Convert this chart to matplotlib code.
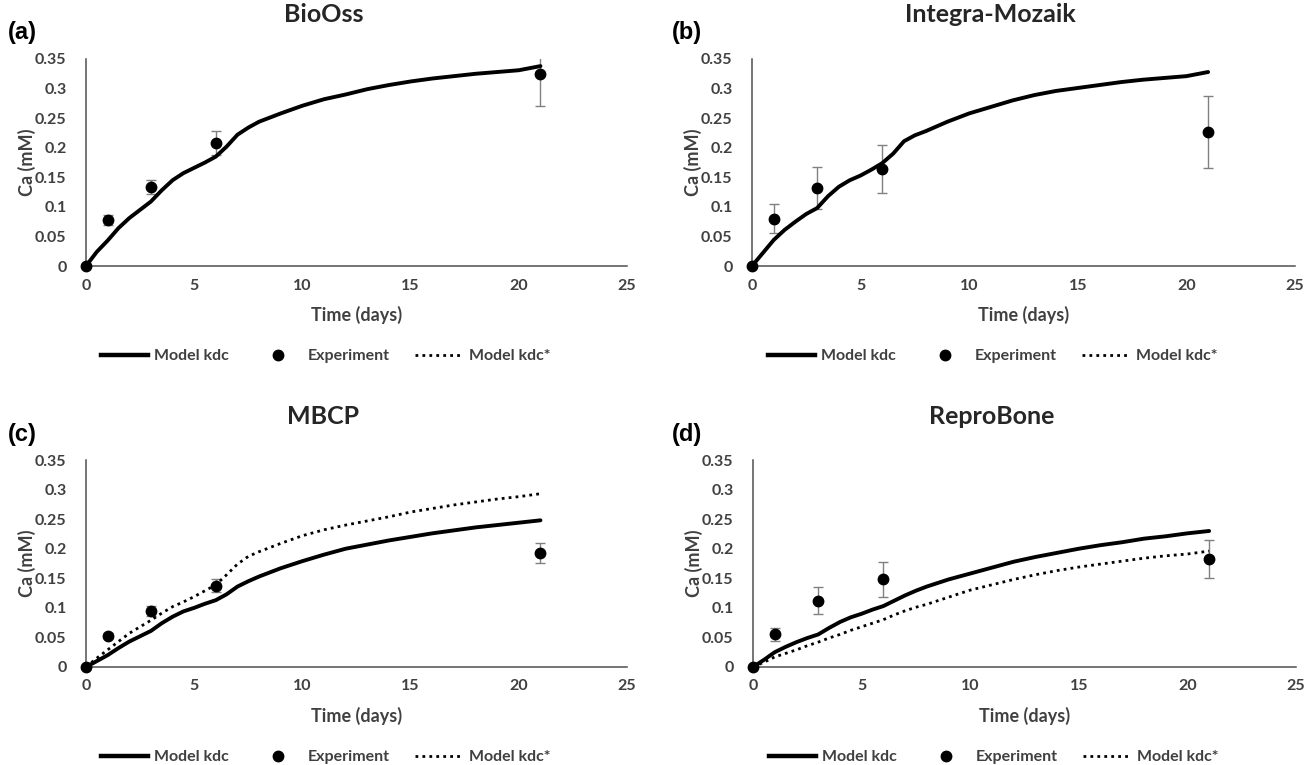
import matplotlib
matplotlib.use("Agg")
import matplotlib.pyplot as plt
from matplotlib.lines import Line2D

# model curves, sampled in days
t_model = [0, 0.5, 1, 1.5, 2, 2.5, 3, 3.5, 4, 4.5, 5, 5.5, 6, 6.5, 7, 7.5, 8,
           9, 10, 11, 12, 13, 14, 15, 16, 17, 18, 19, 20, 21]
bioss_kdc = [0, 0.024, 0.043, 0.064, 0.081, 0.095, 0.109, 0.128, 0.145, 0.157, 0.166, 0.175,
             0.185, 0.202, 0.222, 0.234, 0.244, 0.258, 0.271, 0.282, 0.290, 0.299, 0.306,
             0.312, 0.317, 0.321, 0.325, 0.328, 0.331, 0.338]
integra_kdc = [0, 0.022, 0.044, 0.061, 0.075, 0.088, 0.098, 0.118, 0.134, 0.145, 0.153, 0.163,
               0.174, 0.190, 0.211, 0.221, 0.228, 0.244, 0.258, 0.269, 0.280, 0.289, 0.296,
               0.301, 0.306, 0.311, 0.315, 0.318, 0.321, 0.328]
mbcp_kdc = [0, 0.010, 0.020, 0.032, 0.043, 0.052, 0.061, 0.074, 0.085, 0.094, 0.100, 0.107,
            0.113, 0.123, 0.136, 0.145, 0.153, 0.167, 0.179, 0.190, 0.200, 0.207, 0.214,
            0.220, 0.226, 0.231, 0.236, 0.240, 0.244, 0.248]
mbcp_kdc_star = [0, 0.015, 0.029, 0.043, 0.057, 0.068, 0.079, 0.091, 0.102, 0.110, 0.119, 0.129,
                 0.139, 0.156, 0.174, 0.187, 0.195, 0.209, 0.222, 0.232, 0.240, 0.247, 0.254,
                 0.262, 0.268, 0.274, 0.279, 0.284, 0.288, 0.293]
repro_kdc = [0, 0.012, 0.025, 0.034, 0.042, 0.049, 0.055, 0.066, 0.076, 0.084, 0.090, 0.097,
             0.103, 0.112, 0.121, 0.129, 0.136, 0.148, 0.158, 0.168, 0.178, 0.186, 0.193,
             0.200, 0.206, 0.211, 0.217, 0.221, 0.226, 0.230]
repro_kdc_star = [0, 0.008, 0.017, 0.023, 0.029, 0.036, 0.042, 0.049, 0.055, 0.062, 0.068, 0.074,
                  0.080, 0.088, 0.095, 0.101, 0.106, 0.118, 0.130, 0.139, 0.148, 0.156, 0.163,
                  0.169, 0.174, 0.179, 0.184, 0.188, 0.191, 0.196]

# experiments (mean, error)
t_exp = [0, 1, 3, 6, 21]
bioss_exp = [0, 0.078, 0.134, 0.208, 0.325]
bioss_err = [0, 0.009, 0.012, 0.020, 0.054]
integra_exp = [0, 0.080, 0.132, 0.164, 0.226]
integra_err = [0, 0.025, 0.035, 0.041, 0.061]
mbcp_exp = [0, 0.053, 0.095, 0.137, 0.193]
mbcp_err = [0, 0.004, 0.008, 0.011, 0.017]
repro_exp = [0, 0.055, 0.112, 0.148, 0.182]
repro_err = [0, 0.011, 0.023, 0.030, 0.032]

titles = ["BioOss", "Integra-Mozaik", "MBCP", "ReproBone"]
letters = ["(a)", "(b)", "(c)", "(d)"]
x_ticks = [0, 5, 10, 15, 20, 25]
y_ticks = [0, 0.05, 0.1, 0.15, 0.2, 0.25, 0.3, 0.35]

plt.rcParams['font.family'] = ['Lato', 'DejaVu Sans']

W, H = 1316, 765
fig = plt.figure(figsize=(W / 100, H / 100), dpi=100)

# axes boxes in pixels: left, right, top(0.35), bottom(0)
boxes = [(86, 627, 59, 266), (752, 1295, 59, 266),
         (86, 627, 460, 667), (753, 1296, 460, 667)]
letter_x = [8, 672, 8, 672]

panels = [
    (bioss_kdc, None, bioss_exp, bioss_err),
    (integra_kdc, None, integra_exp, integra_err),
    (mbcp_kdc, mbcp_kdc_star, mbcp_exp, mbcp_err),
    (repro_kdc, repro_kdc_star, repro_exp, repro_err),
]

dot_style = (0, (1, 1.5))
tick_col = '#404040'

for i, (kdc, kdc_star, exp, err) in enumerate(panels):
    l, r, t, b = boxes[i]
    ax = fig.add_axes([l / W, 1 - b / H, (r - l) / W, (b - t) / H])
    aw, ah = r - l, b - t

    ax.plot(t_model, kdc, color='black', lw=2.8, solid_capstyle='round',
            solid_joinstyle='round', zorder=3)
    if kdc_star is not None:
        ax.plot(t_model, kdc_star, color='black', lw=2.0, linestyle=dot_style, zorder=3)
    ax.errorbar(t_exp, exp, yerr=err, fmt='none', ecolor='#808080', elinewidth=1.0,
                capsize=3.5, capthick=1.0, zorder=2)
    ax.plot(t_exp, exp, 'o', color='black', markersize=7.5, clip_on=False, zorder=4)

    ax.set_xlim(0, 25)
    ax.set_ylim(0, 0.35)
    ax.set_xticks(x_ticks)
    ax.set_yticks(y_ticks)
    ax.set_xticklabels([f"{v:g}" for v in x_ticks])
    ax.set_yticklabels([f"{v:g}" for v in y_ticks])
    ax.tick_params(length=0, labelsize=11.5, labelcolor=tick_col)
    ax.tick_params(axis='x', pad=9)
    ax.tick_params(axis='y', pad=14)
    for lab in ax.get_xticklabels() + ax.get_yticklabels():
        lab.set_fontweight('bold')

    for s in ['top', 'right']:
        ax.spines[s].set_visible(False)
    for s in ['left', 'bottom']:
        ax.spines[s].set_color('#505050')
        ax.spines[s].set_linewidth(1.1)

    ax.set_xlabel("Time (days)", fontsize=13, fontweight='bold', color=tick_col, va='center')
    ax.xaxis.set_label_coords(0.5, -49 / ah)
    ax.set_ylabel("Ca (mM)", fontsize=13, fontweight='bold', color=tick_col, va='center')
    ax.yaxis.set_label_coords(-59 / aw, 0.5)

    ax.text(0.5 - 33 / aw, 1 + 44 / ah, titles[i], transform=ax.transAxes,
            ha='center', va='center', fontsize=18, fontweight='bold', color='#262626')

    fig.text(letter_x[i] / W, 1 - (t - 26) / H, letters[i], ha='left', va='center',
             fontsize=17, fontweight='bold', family='Liberation Sans')

    handles = [
        Line2D([], [], color='black', lw=3.2),
        Line2D([], [], color='black', marker='o', linestyle='none', markersize=7.5),
        Line2D([], [], color='black', lw=2.0, linestyle=dot_style),
    ]
    leg = ax.legend(handles, ["Model kdc", "Experiment", "Model kdc*"], loc='center',
                    bbox_to_anchor=(0.5 - 31 / aw, -90 / ah), ncol=3, frameon=False,
                    prop={'size': 11.5, 'weight': 'bold'}, handlelength=3.0,
                    handletextpad=0.35, columnspacing=1.6)
    for txt in leg.get_texts():
        txt.set_color(tick_col)

plt.savefig("out.png", dpi=100)
plt.close()
